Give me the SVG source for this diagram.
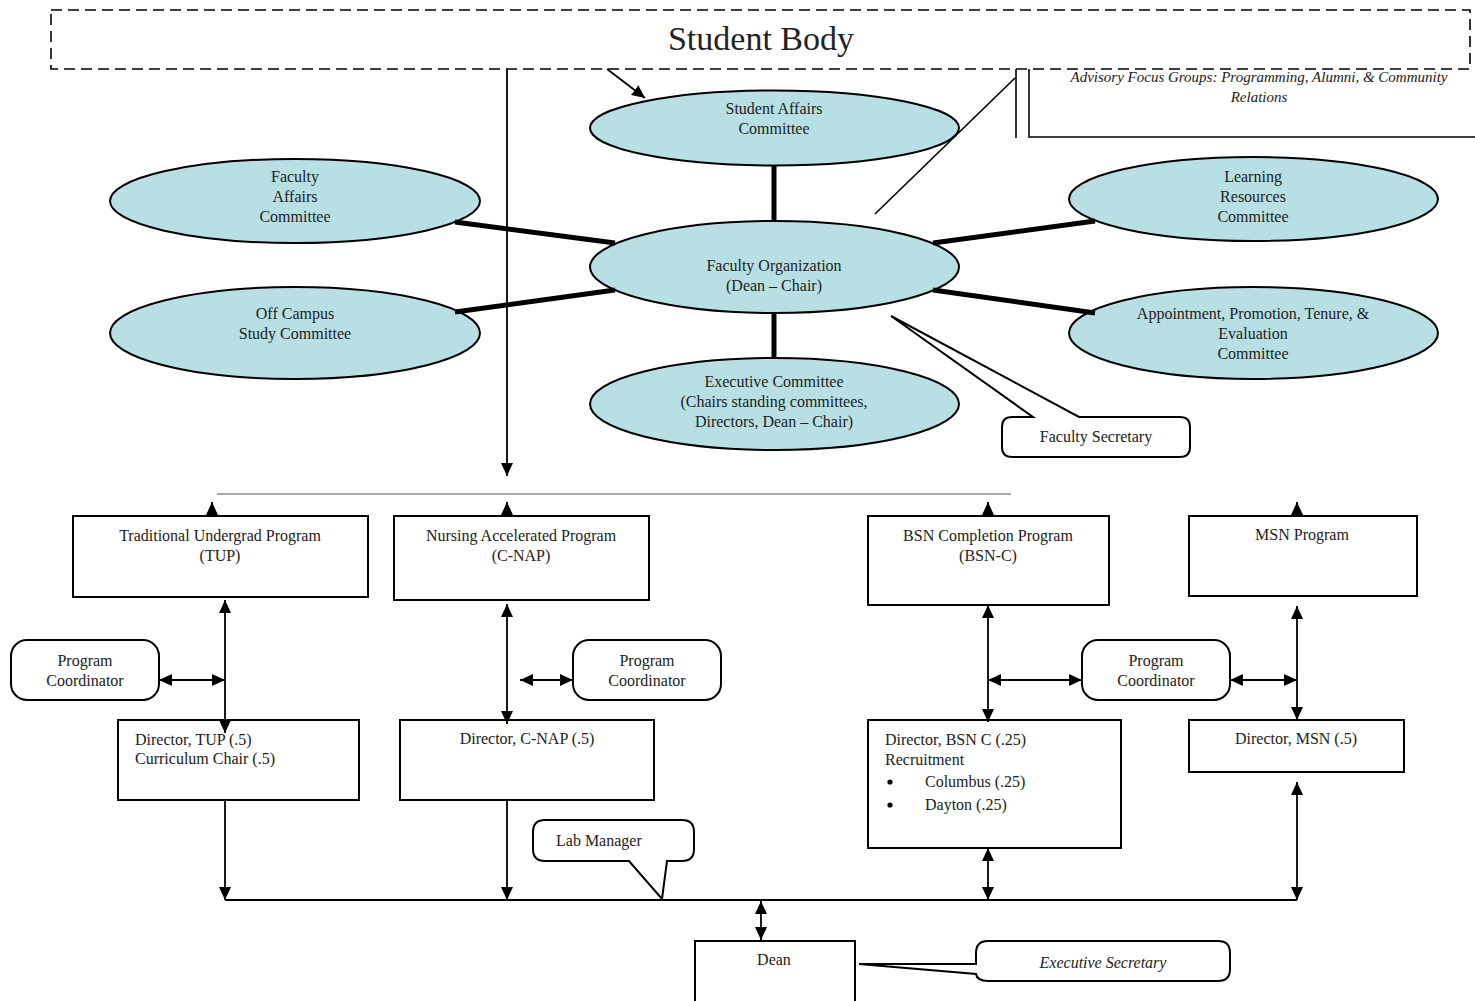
<svg xmlns="http://www.w3.org/2000/svg" width="1475" height="1001" viewBox="0 0 1475 1001">
<style>
text{font-family:"Liberation Serif","Times New Roman",serif;font-size:16px;fill:#222;}
.c{text-anchor:middle;}
.it{font-style:italic;}
.ell{fill:#b8dfe3;stroke:#000;stroke-width:2;}
.box{fill:#fff;stroke:#000;stroke-width:2;}
.thick{stroke:#000;stroke-width:5;fill:none;}
.thin{stroke:#000;stroke-width:1.6;fill:none;}
.arr{stroke:#000;stroke-width:1.8;fill:none;marker-end:url(#ah);}
.darr{stroke:#000;stroke-width:1.8;fill:none;marker-end:url(#ah);marker-start:url(#ah);}
</style>
<defs>
<marker id="ah" viewBox="0 0 13 12" refX="13" refY="6" markerWidth="13" markerHeight="12" markerUnits="userSpaceOnUse" orient="auto-start-reverse">
<path d="M0,0 L13,6 L0,12 z" fill="#000"/>
</marker>
</defs>

<g id="student-body">
<rect x="51" y="10" width="1419" height="59" fill="none" stroke="#000" stroke-width="1.6" stroke-dasharray="11,6"/>
<text class="c" x="761" y="50" style="font-size:34px">Student Body</text>
</g>

<g id="advisory">
<line class="thin" x1="1016" y1="69" x2="1016" y2="138"/>
<path class="thin" d="M1029,69 L1029,137 L1475,137"/>
<text class="c it" x="1259" y="82" style="font-size:15px">Advisory Focus Groups: Programming, Alumni, &amp; Community</text>
<text class="c it" x="1259" y="102" style="font-size:15px">Relations</text>
</g>

<g id="student-affairs">
<ellipse class="ell" cx="774.5" cy="128" rx="184.5" ry="37.5"/>
<text class="c" x="774" y="114">Student Affairs</text>
<text class="c" x="774" y="134">Committee</text>
</g>

<g id="faculty-affairs">
<ellipse class="ell" cx="295" cy="201" rx="185" ry="42"/>
<text class="c" x="295" y="182">Faculty</text>
<text class="c" x="295" y="202">Affairs</text>
<text class="c" x="295" y="222">Committee</text>
</g>

<g id="off-campus">
<ellipse class="ell" cx="295" cy="333" rx="185" ry="46"/>
<text class="c" x="295" y="319">Off Campus</text>
<text class="c" x="295" y="339">Study Committee</text>
</g>

<g id="faculty-organization">
<ellipse class="ell" cx="774.5" cy="267" rx="184.5" ry="46"/>
<text class="c" x="774" y="271">Faculty Organization</text>
<text class="c" x="774" y="291">(Dean – Chair)</text>
</g>

<g id="executive-committee">
<ellipse class="ell" cx="774.5" cy="404" rx="184.5" ry="46"/>
<text class="c" x="774" y="387">Executive Committee</text>
<text class="c" x="774" y="407">(Chairs standing committees,</text>
<text class="c" x="774" y="427">Directors, Dean – Chair)</text>
</g>

<g id="learning-resources">
<ellipse class="ell" cx="1253.5" cy="199" rx="184.5" ry="42"/>
<text class="c" x="1253" y="182">Learning</text>
<text class="c" x="1253" y="202">Resources</text>
<text class="c" x="1253" y="222">Committee</text>
</g>

<g id="appointment">
<ellipse class="ell" cx="1253.5" cy="333" rx="184.5" ry="46"/>
<text class="c" x="1253" y="319">Appointment, Promotion, Tenure, &amp;</text>
<text class="c" x="1253" y="339">Evaluation</text>
<text class="c" x="1253" y="359">Committee</text>
</g>

<g id="faculty-secretary">
<path class="box" d="M1012,417 L1033,417 L891,316 L1079,417 L1180,417 Q1190,417 1190,427 L1190,447 Q1190,457 1180,457 L1012,457 Q1002,457 1002,447 L1002,427 Q1002,417 1012,417 Z"/>
<text class="c" x="1096" y="442">Faculty Secretary</text>
</g>

<g id="tup">
<rect class="box" x="73" y="516" width="295" height="81"/>
<text class="c" x="220" y="541">Traditional Undergrad Program</text>
<text class="c" x="220" y="561">(TUP)</text>
</g>

<g id="cnap">
<rect class="box" x="394" y="516" width="255" height="84"/>
<text class="c" x="521" y="541">Nursing Accelerated Program</text>
<text class="c" x="521" y="561">(C-NAP)</text>
</g>

<g id="bsnc">
<rect class="box" x="868" y="516" width="241" height="89"/>
<text class="c" x="988" y="541">BSN Completion Program</text>
<text class="c" x="988" y="561">(BSN-C)</text>
</g>

<g id="msn">
<rect class="box" x="1189" y="516" width="228" height="80"/>
<text class="c" x="1302" y="540">MSN Program</text>
</g>

<g id="coord-1">
<rect class="box" x="11" y="640" width="148" height="60" rx="16"/>
<text class="c" x="85" y="666">Program</text>
<text class="c" x="85" y="686">Coordinator</text>
</g>

<g id="coord-2">
<rect class="box" x="573" y="640" width="148" height="60" rx="16"/>
<text class="c" x="647" y="666">Program</text>
<text class="c" x="647" y="686">Coordinator</text>
</g>

<g id="coord-3">
<rect class="box" x="1082" y="640" width="148" height="60" rx="16"/>
<text class="c" x="1156" y="666">Program</text>
<text class="c" x="1156" y="686">Coordinator</text>
</g>

<g id="dir-tup">
<rect class="box" x="118" y="720" width="241" height="80"/>
<text x="135" y="745">Director, TUP (.5)</text>
<text x="135" y="764">Curriculum Chair (.5)</text>
</g>

<g id="dir-cnap">
<rect class="box" x="400" y="720" width="254" height="80"/>
<text class="c" x="527" y="744">Director, C-NAP (.5)</text>
</g>

<g id="dir-bsnc">
<rect class="box" x="868" y="720" width="253" height="128"/>
<text x="885" y="745">Director, BSN C (.25)</text>
<text x="885" y="765">Recruitment</text>
<circle cx="890" cy="782" r="2.6" fill="#000"/>
<text x="925" y="787">Columbus (.25)</text>
<circle cx="890" cy="805" r="2.6" fill="#000"/>
<text x="925" y="810">Dayton (.25)</text>
</g>

<g id="dir-msn">
<rect class="box" x="1189" y="720" width="215" height="52"/>
<text class="c" x="1296" y="744">Director, MSN (.5)</text>
</g>

<g id="lab-manager">
<path class="box" d="M545,820 L682,820 Q694,820 694,832 L694,849 Q694,861 682,861 L667,861 L662,899 L629,861 L545,861 Q533,861 533,849 L533,832 Q533,820 545,820 Z"/>
<text x="556" y="846">Lab Manager</text>
</g>

<g id="dean">
<rect class="box" x="695" y="941" width="160" height="62"/>
<text class="c" x="774" y="965">Dean</text>
</g>

<g id="executive-secretary">
<path class="box" d="M988,941 L1218,941 Q1230,941 1230,953 L1230,969 Q1230,981 1218,981 L988,981 Q977,981 976,974 L859,964 L976,964 L976,953 Q976,941 988,941 Z"/>
<text class="c it" x="1103" y="968">Executive Secretary</text>
</g>

<g id="connectors">
<line class="arr" x1="607" y1="69" x2="645" y2="98"/>
<line class="arr" x1="507" y1="69" x2="507" y2="476"/>
<line class="thin" x1="1015" y1="78" x2="875" y2="214"/>
<line class="thick" x1="774" y1="165" x2="774" y2="221"/>
<line class="thick" x1="455" y1="222" x2="615" y2="243"/>
<line class="thick" x1="455" y1="312" x2="615" y2="290"/>
<line class="thick" x1="1095" y1="221" x2="933" y2="243"/>
<line class="thick" x1="1095" y1="313" x2="933" y2="290"/>
<line class="thick" x1="774" y1="313" x2="774" y2="358"/>
<line x1="217" y1="494" x2="1011" y2="494" stroke="#555" stroke-width="1.2"/>
<line class="arr" x1="212" y1="516" x2="212" y2="502"/>
<line class="arr" x1="507" y1="516" x2="507" y2="502"/>
<line class="arr" x1="988" y1="516" x2="988" y2="502"/>
<line class="arr" x1="1297" y1="516" x2="1297" y2="502"/>
<line class="darr" x1="225" y1="600" x2="225" y2="733"/>
<line class="darr" x1="159" y1="680" x2="225" y2="680"/>
<line class="darr" x1="507" y1="604" x2="507" y2="724"/>
<line class="darr" x1="520" y1="680" x2="573" y2="680"/>
<line class="darr" x1="988" y1="605" x2="988" y2="722"/>
<line class="darr" x1="988" y1="680" x2="1082" y2="680"/>
<line class="darr" x1="1230" y1="680" x2="1297" y2="680"/>
<line class="darr" x1="1297" y1="606" x2="1297" y2="720"/>
<line class="arr" x1="225" y1="800" x2="225" y2="900"/>
<line class="arr" x1="507" y1="800" x2="507" y2="900"/>
<line class="darr" x1="988" y1="848" x2="988" y2="900"/>
<line class="darr" x1="1297" y1="782" x2="1297" y2="900"/>
<line x1="225" y1="900" x2="1297" y2="900" stroke="#000" stroke-width="2"/>
<line class="darr" x1="761" y1="901" x2="761" y2="940"/>
</g>
</svg>
